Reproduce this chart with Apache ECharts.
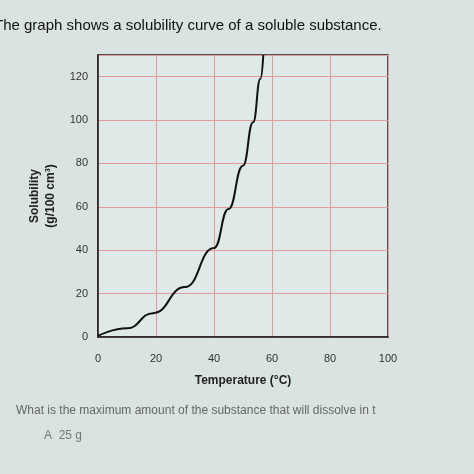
<!DOCTYPE html>
<html><head><meta charset="utf-8">
<script src="https://cdn.jsdelivr.net/npm/echarts@6/dist/echarts.min.js"></script>
<style>html,body{margin:0;padding:0;background:#d9e3e1;}#c{width:474px;height:474px;}</style>
</head><body><div id="c"></div>
<script>
// 溶解度曲线
const temps = [0, 10, 19, 30, 40, 45, 50, 53.5, 56, 57];
const solubility = [0.5, 4, 11, 23, 41, 59, 79, 99, 119, 130];
const xTicks = [0, 20, 40, 60, 80, 100];
const yTicks = [0, 20, 40, 60, 80, 100, 120];

const chart = echarts.init(document.getElementById('c'));
chart.setOption({
  backgroundColor: '#d9e3e1',
  animation: false,
  grid: { left: 98, right: 86, top: 55, bottom: 137, show: true, borderColor: '#222', borderWidth: 1.5, backgroundColor: '#dfe9e7' },
  xAxis: {
    type: 'value', min: 0, max: 100, interval: 20,
    name: 'Temperature (°C)', nameLocation: 'middle', nameGap: 38,
    nameTextStyle: { color: '#222', fontSize: 12, fontWeight: 'bold', fontFamily: 'Liberation Sans' },
    axisLine: { show: true, lineStyle: { color: '#222', width: 1.5 } }, axisTick: { show: false },
    axisLabel: { color: '#333', fontSize: 11, margin: 16, fontFamily: 'Liberation Sans',
      formatter: v => xTicks.includes(v) ? String(v) : '' },
    splitLine: { lineStyle: { color: '#e29a9a', width: 1 } }
  },
  yAxis: {
    type: 'value', min: 0, max: 130, interval: 20,
    name: 'Solubility\n(g/100 cm³)', nameLocation: 'middle', nameGap: 34,
    nameTextStyle: { color: '#222', fontSize: 12, fontWeight: 'bold', lineHeight: 16, fontFamily: 'Liberation Sans' },
    axisLine: { show: true, lineStyle: { color: '#222', width: 1.5 } }, axisTick: { show: false },
    axisLabel: { color: '#333', fontSize: 11, margin: 10, showMaxLabel: false, fontFamily: 'Liberation Sans',
      formatter: v => yTicks.includes(v) ? String(v) : '' },
    splitLine: { lineStyle: { color: '#e29a9a', width: 1 } }
  },
  series: [{
    type: 'line', smooth: true, smoothMonotone: 'x', symbol: 'none',
    data: temps.map((t, i) => [t, solubility[i]]),
    lineStyle: { color: '#111', width: 2 }
  }],
  graphic: [
    { type: 'text', left: -6, top: 18, style: { text: 'The graph shows a solubility curve of a soluble substance.', fontSize: 15, fill: '#111', fontFamily: 'Liberation Sans' } },
    { type: 'text', left: 16, top: 405, style: { text: 'What is the maximum amount of the substance that will dissolve in t', fontSize: 12, fill: '#666', fontFamily: 'Liberation Sans' } },
    { type: 'text', left: 44, top: 430, style: { text: 'A  25 g', fontSize: 12, fill: '#777', fontFamily: 'Liberation Sans' } }
  ]
});
</script></body></html>
